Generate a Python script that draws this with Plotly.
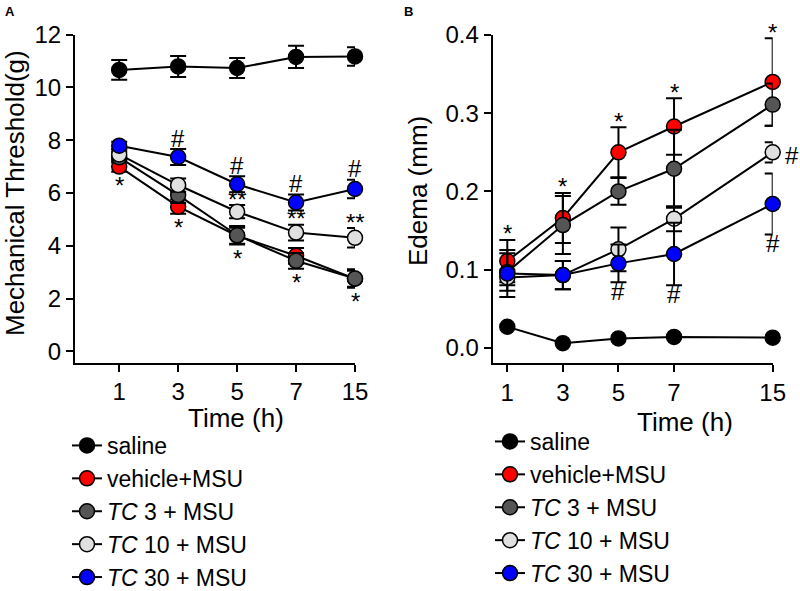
import plotly.graph_objects as go

# ---------------- data ----------------
time_labels = ["1", "3", "5", "7", "15"]
series_names = ["saline", "vehicle+MSU", "<i>TC</i> 3 + MSU",
                "<i>TC</i> 10 + MSU", "<i>TC</i> 30 + MSU"]

# Panel A: mechanical threshold (g), mean and SEM
thr_saline = [10.66, 10.79, 10.73, 11.15, 11.17]
thr_saline_err = [0.37, 0.40, 0.38, 0.42, 0.35]
thr_vehicle = [7.00, 5.48, 4.38, 3.62, 2.75]
thr_vehicle_err = [0.20, 0.27, 0.30, 0.30, 0.30]
thr_tc3 = [7.35, 5.92, 4.40, 3.43, 2.76]
thr_tc3_err = [0.20, 0.30, 0.35, 0.30, 0.35]
thr_tc10 = [7.46, 6.30, 5.29, 4.50, 4.30]
thr_tc10_err = [0.20, 0.25, 0.25, 0.30, 0.37]
thr_tc30 = [7.79, 7.36, 6.33, 5.64, 6.15]
thr_tc30_err = [0.15, 0.30, 0.30, 0.30, 0.35]

# Panel B: edema (mm), mean and SEM
ed_saline = [0.027, 0.006, 0.012, 0.014, 0.013]
ed_saline_err = [0, 0, 0, 0, 0]
ed_vehicle = [0.111, 0.166, 0.250, 0.283, 0.340]
ed_vehicle_err = [0.027, 0.032, 0.032, 0.036, 0.056]
ed_tc3 = [0.097, 0.157, 0.200, 0.229, 0.311]
ed_tc3_err = [0.024, 0.037, 0.017, 0.050, 0.027]
ed_tc10 = [0.090, 0.093, 0.126, 0.165, 0.250]
ed_tc10_err = [0.010, 0.018, 0.028, 0.016, 0.013]
ed_tc30 = [0.095, 0.093, 0.108, 0.120, 0.184]
ed_tc30_err = [0.030, 0.018, 0.024, 0.040, 0.039]

# significance marks: (time, series index, text, side)
sig_a = [("1", 1, "*", "below"), ("3", 4, "#", "above"), ("3", 1, "*", "below"),
         ("5", 4, "#", "above"), ("5", 3, "**", "above"), ("5", 2, "*", "below"),
         ("7", 4, "#", "above"), ("7", 3, "**", "above"), ("7", 2, "*", "below"),
         ("15", 4, "#", "above"), ("15", 3, "**", "above"), ("15", 2, "*", "below")]
sig_b = [("1", 1, "*", "above"), ("3", 1, "*", "above"), ("5", 1, "*", "above"),
         ("7", 1, "*", "above"), ("15", 1, "*", "above"),
         ("5", 4, "#", "below"), ("7", 4, "#", "below"), ("15", 4, "#", "below"),
         ("15", 3, "#", "right")]

# ---------------- style ----------------
FONT = "Liberation Sans, Arial, Helvetica, sans-serif"
colors = ["#000000", "#FF0000", "#555555", "#E0E0E0", "#0000FF"]
W, H = 800, 591
# panel B: horizontal slot of each time label on its axis
ed_axis_pos = [1, 3, 5, 7, 10.55]

def px(xp):
    return xp / W

def py(yp):
    return 1 - yp / H

thr_means = [thr_saline, thr_vehicle, thr_tc3, thr_tc10, thr_tc30]
thr_errs = [thr_saline_err, thr_vehicle_err, thr_tc3_err, thr_tc10_err, thr_tc30_err]
ed_means = [ed_saline, ed_vehicle, ed_tc3, ed_tc10, ed_tc30]
ed_errs = [ed_saline_err, ed_vehicle_err, ed_tc3_err, ed_tc10_err, ed_tc30_err]

fig = go.Figure()

for i, name in enumerate(series_names):
    fig.add_trace(go.Scatter(
        x=time_labels, y=thr_means[i], name=name, mode="lines+markers",
        line=dict(color="black", width=2),
        marker=dict(size=15, color=colors[i], line=dict(color="black", width=1.5)),
        error_y=dict(type="data", array=thr_errs[i], thickness=2, width=8, color="black"),
        xaxis="x", yaxis="y", legend="legend", cliponaxis=False))

for i, name in enumerate(series_names):
    fig.add_trace(go.Scatter(
        x=ed_axis_pos, y=ed_means[i], name=name, mode="lines+markers",
        line=dict(color="black", width=2),
        marker=dict(size=15, color=colors[i], line=dict(color="black", width=1.5)),
        error_y=dict(type="data", array=ed_errs[i], thickness=2, width=8, color="black",
                     visible=any(e > 0 for e in ed_errs[i])),
        xaxis="x2", yaxis="y2", legend="legend2", cliponaxis=False))

annotations = []
SIG_SIZE = 24
# glyph center offset above text middle (px)
glyph_off = {"*": 5, "**": 5, "#": 0}
gap = {"above": 11, "below": -9}

def add_sig(specs, means, errs, xref, yref, xmap):
    for t, si, txt, side in specs:
        k = time_labels.index(t)
        m, e = means[si][k], errs[si][k]
        xs = 0
        if side == "above":
            yv, ys = m + e, gap["above"] - glyph_off[txt]
        elif side == "below":
            yv, ys = m - e, gap["below"] - glyph_off[txt]
        else:
            yv, ys, xs = m, -3 - glyph_off[txt], 19
        annotations.append(dict(
            x=xmap(k), y=yv, xref=xref, yref=yref, text=txt, showarrow=False,
            xanchor="center", yanchor="middle", yshift=ys, xshift=xs,
            font=dict(family=FONT, size=SIG_SIZE, color="black")))

# category axis: annotations take the category index
add_sig(sig_a, thr_means, thr_errs, "x", "y", lambda k: k)
add_sig(sig_b, ed_means, ed_errs, "x2", "y2", lambda k: ed_axis_pos[k])

TITLE_SIZE = 26

def paper_text(text, x, y, size, angle=0, bold=False):
    return dict(text=f"<b>{text}</b>" if bold else text, x=px(x), y=py(y),
                xref="paper", yref="paper", showarrow=False, textangle=angle,
                xanchor="center", yanchor="middle",
                font=dict(family=FONT, size=size, color="black"))

annotations += [
    paper_text("A", 10, 12, 13, bold=True),
    paper_text("B", 408, 12, 13, bold=True),
    paper_text("Mechanical Threshold(g)", 15, 193, TITLE_SIZE, angle=-90),
    paper_text("Edema (mm)", 418, 191, TITLE_SIZE, angle=-90),
    paper_text("Time (h)", 236, 418, TITLE_SIZE),
    paper_text("Time (h)", 685, 422, TITLE_SIZE),
]

axis_common = dict(showline=True, linecolor="black", linewidth=2, ticks="outside",
                   ticklen=7, tickwidth=2, tickcolor="black", showgrid=False,
                   zeroline=False, automargin=False,
                   tickfont=dict(family=FONT, size=24, color="black"))

legend_common = dict(font=dict(family=FONT, size=23, color="black"), bgcolor="rgba(0,0,0,0)",
                     itemwidth=30, tracegroupgap=0, xanchor="left", yanchor="top",
                     itemclick=False, itemdoubleclick=False)

fig.update_layout(
    width=W, height=H, template="none", paper_bgcolor="white", plot_bgcolor="white",
    margin=dict(l=0, r=0, t=0, b=0, autoexpand=False), showlegend=True,
    xaxis=dict(domain=[px(75), px(355)], type="category", range=[-0.75, 4],
               anchor="y", **axis_common),
    yaxis=dict(domain=[py(362.5), py(34.5)], range=[-0.42, 12], tickvals=[0, 2, 4, 6, 8, 10, 12],
               anchor="x", **axis_common),
    xaxis2=dict(domain=[px(492.7), px(772.7)], range=[0.475, 10.55], tickvals=ed_axis_pos,
                ticktext=time_labels, anchor="y2", **axis_common),
    yaxis2=dict(domain=[py(362.7), py(35)], range=[-0.019, 0.4], tickvals=[0, 0.1, 0.2, 0.3, 0.4],
                tickformat=".1f", anchor="x2", **axis_common),
    legend=dict(x=px(67), y=py(424), **legend_common),
    legend2=dict(x=px(490), y=py(420), **legend_common),
    annotations=annotations,
)

fig.write_html("out.html", config={"displayModeBar": False},
               post_script="document.body.style.margin='0';"
                           "document.body.style.overflow='hidden';")
